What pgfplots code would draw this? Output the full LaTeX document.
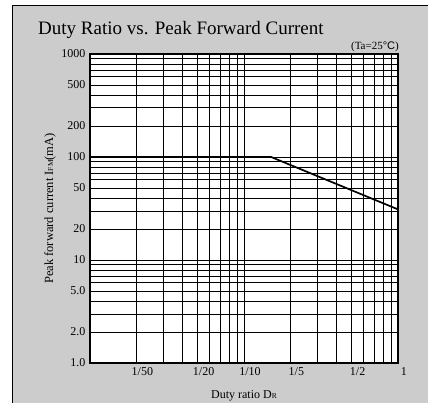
\documentclass[border=0pt]{standalone}
\usepackage{pgfplots}
\pgfplotsset{compat=1.18}
\usepackage{fontspec}
\setmainfont{Liberation Serif}
\setsansfont{Liberation Sans}
\definecolor{panel}{HTML}{CCCCCC}
\begin{document}
\begin{tikzpicture}
\useasboundingbox (0pt,0pt) rectangle (428pt,403pt);
\fill[white] (0pt,0pt) rectangle (428pt,403pt);
\fill[panel] (12pt,0pt) rectangle (428pt,397pt);
\draw[black, line width=1pt] (12pt,0pt) -- (12pt,397pt) -- (428pt,397pt);
\node[anchor=base west, inner sep=0pt, font=\fontsize{19}{20}\selectfont] at (38pt,368pt) {Duty Ratio vs. Peak Forward Current};
\node[anchor=base east, inner sep=0pt, font=\fontsize{11}{12}\selectfont] at (399pt,353pt) {(Ta=25{\sffamily\textdegree C})};
\begin{axis}[
  at={(90pt,40pt)}, anchor=south west,
  scale only axis, width=308pt, height=309pt,
  xmode=log, ymode=log,
  xmin=0.01, xmax=1, ymin=1, ymax=1000,
  axis background/.style={fill=white},
  axis line style={black, line width=1.3pt},
  xtick={0.01,0.02,0.03,0.04,0.05,0.06,0.07,0.08,0.09,0.1,0.2,0.3,0.4,0.5,0.6,0.7,0.8,0.9,1},
  xticklabels={{},1/50,{},{},1/20,{},{},{},{},1/10,1/5,{},{},1/2,{},{},{},{},1},
  ytick={1,2,3,4,5,6,7,8,9,10,20,30,40,50,60,70,80,90,100,200,300,400,500,600,700,800,900,1000},
  yticklabels={1.0,2.0,{},{},5.0,{},{},{},{},10,20,{},{},50,{},{},{},{},100,200,{},{},500,{},{},{},{},1000},
  minor tick num=0,
  xminorgrids=false, yminorgrids=false,
  grid=major,
  major grid style={black, line width=0.7pt},
  major tick length=0pt,
  tick align=inside,
  ticklabel style={font=\fontsize{12}{12}\selectfont},
  xticklabel style={xshift=6pt, yshift=-1pt},
  yticklabel style={xshift=-1pt},
  xlabel={Duty ratio D{\fontsize{7.5}{8}\selectfont R}},
  xlabel style={at={(axis description cs:0.5,0)}, anchor=base, yshift=-36pt, font=\fontsize{12}{12}\selectfont},
  ylabel={Peak forward current I{\fontsize{7.5}{8}\selectfont FM}(mA)},
  ylabel style={at={(axis description cs:-0.13,0.5)}, anchor=center, font=\fontsize{12.5}{12.5}\selectfont},
]
\addplot[black, line width=1.7pt] coordinates {(0.01,100) (0.15,100) (1,31)};
\end{axis}
\end{tikzpicture}
\end{document}
